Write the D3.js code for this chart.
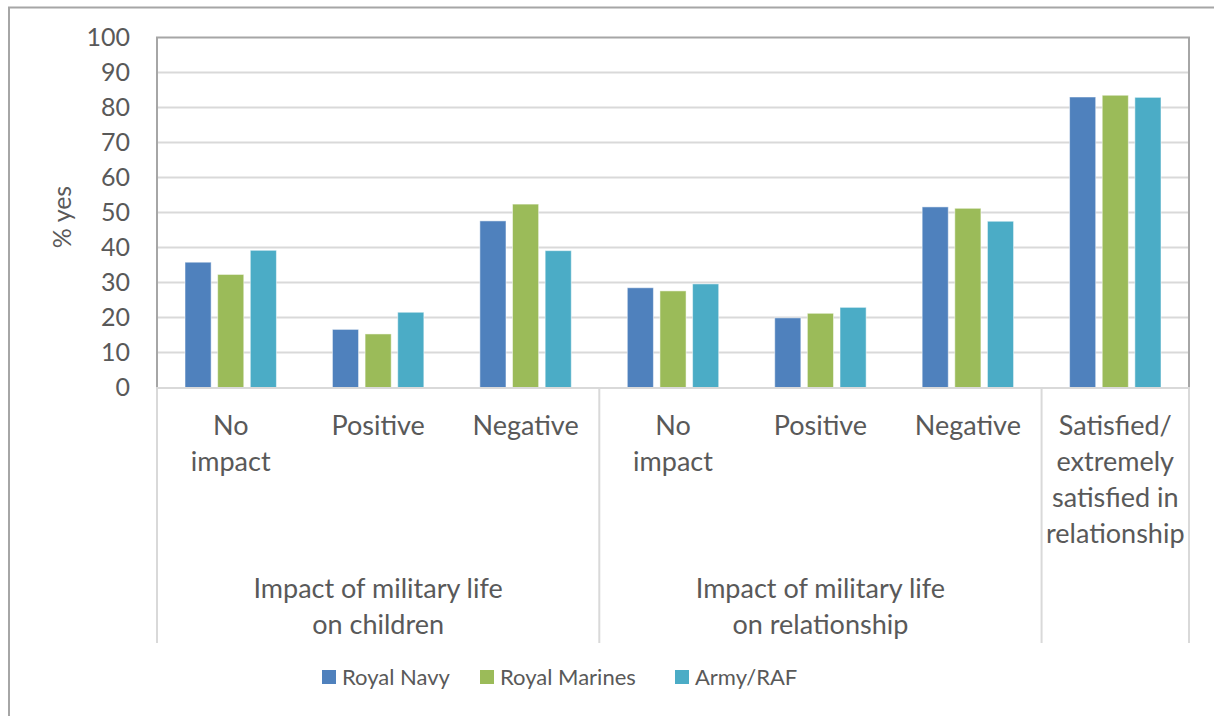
<!DOCTYPE html>
<html>
<head>
<meta charset="utf-8">
<script src="https://cdn.jsdelivr.net/npm/d3@7"></script>
<style>
  body { margin: 0; background: #fff; }
  text { font-family: Lato, "Open Sans", sans-serif; fill: #595959; }
</style>
</head>
<body>
<div id="chart"></div>
<script>
// data
const categories = ["No impact", "Positive", "Negative", "No impact", "Positive", "Negative",
  "Satisfied/ extremely satisfied in relationship"];
const categoryLines = [["No", "impact"], ["Positive"], ["Negative"], ["No", "impact"], ["Positive"], ["Negative"],
  ["Satisfied/", "extremely", "satisfied in", "relationship"]];
const groupLabels = [["Impact of military life", "on children"], ["Impact of military life", "on relationship"], []];
const groupSizes = [3, 3, 1];
const series = ["Royal Navy", "Royal Marines", "Army/RAF"];
const navy = [35.8, 16.6, 47.6, 28.5, 19.9, 51.6, 83.0];
const marines = [32.3, 15.3, 52.4, 27.6, 21.2, 51.2, 83.5];
const army = [39.2, 21.5, 39.1, 29.6, 22.9, 47.5, 82.9];
const yTicks = [0, 10, 20, 30, 40, 50, 60, 70, 80, 90, 100];
const colors = ["#4F81BD", "#9BBB59", "#4BACC6"];

const width = 1214, height = 716;
const plot = { left: 157, right: 1189, top: 37.5, bottom: 387.5 };

const svg = d3.select("#chart").append("svg")
  .attr("width", width)
  .attr("height", height);

// chart border (runs off the right and bottom like the original)
svg.append("rect")
  .attr("x", 9).attr("y", 7.5)
  .attr("width", width).attr("height", height)
  .attr("fill", "none").attr("stroke", "#a6a6a6").attr("stroke-width", 2);

const idx = d3.range(categories.length);

const x0 = d3.scaleBand()
  .domain(idx)
  .range([plot.left, plot.right])
  .paddingInner(0.38)
  .paddingOuter(0.19);

const x1 = d3.scaleBand()
  .domain(series)
  .range([0, x0.bandwidth()])
  .paddingInner(0.2);

const y = d3.scaleLinear()
  .domain([0, 100])
  .range([plot.bottom, plot.top]);

// gridlines
svg.append("g")
  .selectAll("line")
  .data(yTicks.slice(1, -1))
  .join("line")
  .attr("x1", plot.left).attr("x2", plot.right)
  .attr("y1", d => y(d)).attr("y2", d => y(d))
  .attr("stroke", "#d9d9d9").attr("stroke-width", 2);

// y axis labels
const yAxis = svg.append("g")
  .attr("transform", `translate(${plot.left},0)`)
  .call(d3.axisLeft(y).tickValues(yTicks).tickSize(0).tickPadding(27));
yAxis.select(".domain").remove();
yAxis.selectAll("text")
  .style("font-size", "25px")
  .attr("fill", "#595959");

svg.append("text")
  .attr("transform", `translate(71,217) rotate(-90)`)
  .attr("text-anchor", "middle")
  .style("font-size", "25px")
  .text("% yes");

// bars
const allValues = [navy, marines, army];
series.forEach((s, si) => {
  svg.append("g")
    .selectAll("rect")
    .data(allValues[si])
    .join("rect")
    .attr("x", (d, i) => x0(i) + x1(s))
    .attr("y", d => y(d))
    .attr("width", x1.bandwidth())
    .attr("height", d => y(0) - y(d))
    .attr("fill", colors[si])
    .attr("stroke", "#ffffff")
    .attr("stroke-opacity", 0.5)
    .attr("stroke-width", 1);
});

// plot frame
svg.append("path")
  .attr("d", `M${plot.left},${plot.bottom} V${plot.top} H${plot.right} V${plot.bottom}`)
  .attr("fill", "none").attr("stroke", "#a6a6a6").attr("stroke-width", 2);
svg.append("line")
  .attr("x1", plot.left).attr("x2", plot.right)
  .attr("y1", plot.bottom + 0.5).attr("y2", plot.bottom + 0.5)
  .attr("stroke", "#d9d9d9").attr("stroke-width", 2);

// category axis: two tiers
const step = x0.step();
const edge = i => plot.left + i * step;
const bottomTick = 643;
let start = 0;
const groupEdges = [0];
groupSizes.forEach(n => { start += n; groupEdges.push(start); });

svg.append("g")
  .selectAll("line")
  .data(groupEdges)
  .join("line")
  .attr("x1", d => edge(d)).attr("x2", d => edge(d))
  .attr("y1", plot.bottom).attr("y2", bottomTick)
  .attr("stroke", "#d9d9d9").attr("stroke-width", 2);

const catText = svg.append("g")
  .selectAll("text")
  .data(idx)
  .join("text")
  .attr("text-anchor", "middle")
  .style("font-size", "27px")
  .attr("x", i => x0(i) + x0.bandwidth() / 2)
  .attr("y", 435);
catText.selectAll("tspan")
  .data(i => categoryLines[i].map(t => ({ t, cx: x0(i) + x0.bandwidth() / 2 })))
  .join("tspan")
  .attr("x", d => d.cx)
  .attr("dy", (d, j) => j === 0 ? 0 : 36)
  .text(d => d.t);

const grpText = svg.append("g")
  .selectAll("text")
  .data(groupLabels)
  .join("text")
  .attr("text-anchor", "middle")
  .style("font-size", "27px")
  .attr("y", 598);
grpText.selectAll("tspan")
  .data((g, gi) => g.map(t => ({ t, cx: (edge(groupEdges[gi]) + edge(groupEdges[gi + 1])) / 2 })))
  .join("tspan")
  .attr("x", d => d.cx)
  .attr("dy", (d, j) => j === 0 ? 0 : 36)
  .text(d => d.t);

// legend
const legendX = [322, 480, 675];
const legend = svg.append("g")
  .selectAll("g")
  .data(series)
  .join("g")
  .attr("transform", (d, i) => `translate(${legendX[i]},670)`);
legend.append("rect")
  .attr("width", 14).attr("height", 14)
  .attr("fill", (d, i) => colors[i]);
legend.append("text")
  .attr("x", 20).attr("y", 15)
  .style("font-size", "22px")
  .text(d => d);
</script>
</body>
</html>
